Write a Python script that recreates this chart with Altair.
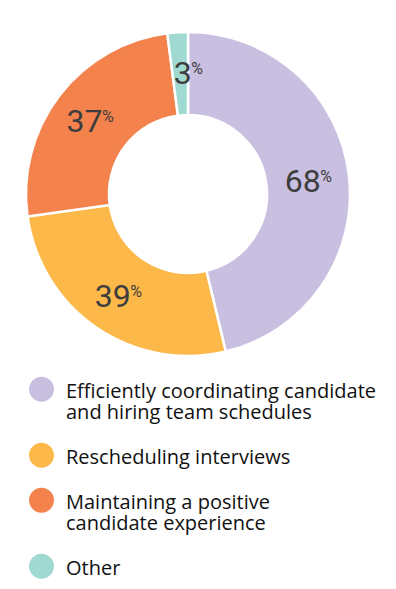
import altair as alt
import pandas as pd

categories = [
    "Efficiently coordinating candidate|and hiring team schedules",
    "Rescheduling interviews",
    "Maintaining a positive|candidate experience",
    "Other",
]
values = [68, 39, 37, 3]
colors = ["#C9BFE0", "#FDB84A", "#F4824D", "#A0D9D1"]

df = pd.DataFrame({
    "category": categories,
    "value": values,
    "idx": list(range(len(categories))),
})
df["num"] = df["value"].astype(str)

# circle raised above the label baseline so it sits beside the first text line
raised_circle = "M -1 -0.66 A 1 1 0 1 0 1 -0.66 A 1 1 0 1 0 -1 -0.66 Z"

base = alt.Chart(df).encode(
    theta=alt.Theta("value:Q", stack=True),
    order=alt.Order("idx:Q"),
)

arcs = base.mark_arc(innerRadius=79, outerRadius=162, stroke="white", strokeWidth=2.5).encode(
    color=alt.Color(
        "category:N",
        scale=alt.Scale(domain=categories, range=colors),
        sort=categories,
        legend=alt.Legend(
            title=None,
            orient="none",
            legendX=21,
            legendY=377,
            direction="vertical",
            symbolType=raised_circle,
            symbolSize=625,
            symbolStrokeWidth=0,
            symbolOpacity=1,
            labelFont="Open Sans",
            labelFontSize=20,
            labelBaseline="alphabetic",
            labelColor="#111111",
            labelOffset=12,
            labelLimit=400,
            rowPadding=19,
            padding=0,
            labelExpr="split(datum.label, '|')",
        ),
    )
)

num_font = "Roboto"

nums = base.mark_text(
    radius=122, align="right", dx=11.5, dy=2, fontSize=32, font=num_font, color="#3d3d3d"
).encode(text="num:N")

pct = base.mark_text(
    radius=122, align="left", dx=11, dy=-3, fontSize=16, font=num_font, color="#3d3d3d"
).encode(text=alt.value("%"))

chart = alt.layer(arcs, nums, pct).properties(
    width=360, height=372, padding=0
).configure_view(stroke=None).configure(
    style={"guide-label": {"lineHeight": 21}}
)

chart.save("out.html", embed_options={"renderer": "svg", "actions": False})
